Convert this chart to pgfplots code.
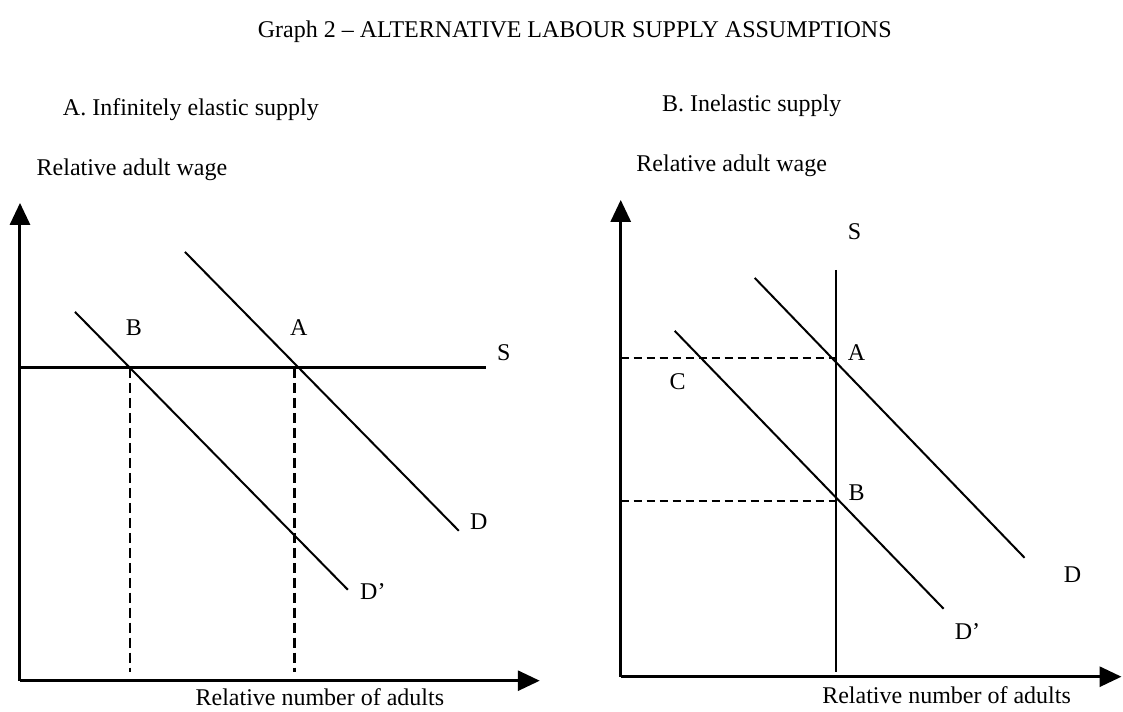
\documentclass[border=0pt]{standalone}
\usepackage{fontspec}
\setmainfont{Liberation Serif}
\usepackage{pgfplots}
\pgfplotsset{compat=1.18}
\usetikzlibrary{arrows.meta}

% one pixel of the reference = 0.5pt
\pgfplotsset{
  diagram/.style={
    scale only axis, axis lines=left, xtick=\empty, ytick=\empty,
    enlargelimits=false, clip=false, anchor=south west,
    axis line style={line width=1.5pt,-{Triangle[length=11pt,width=10pt]}},
  },
  curve/.style={black, line width=1pt, no markers},
  guide/.style={black, line width=1.1pt, no markers, dash pattern=on 4pt off 2.5pt},
}

\begin{document}
\begin{tikzpicture}[font=\fontsize{12}{14}\selectfont]
\path (0,0) rectangle (561.5pt,354.5pt);
\node at (287.5pt,338.5pt) {Graph 2 -- ALTERNATIVE LABOUR SUPPLY ASSUMPTIONS};

% A. infinitely elastic supply
\begin{axis}[diagram, at={(10pt,14pt)}, width=260pt, height=239pt,
  xmin=0, xmax=520, ymin=0, ymax=478]
\addplot[curve, line width=1.4pt] coordinates {(0,313) (466,313)};
\addplot[curve] coordinates {(165,429) (439,150)};
\addplot[curve] coordinates {(55,369) (328,91)};
\addplot[guide, line width=1.4pt, dash pattern=on 5pt off 2.5pt] coordinates {(110,313) (110,9)};
\addplot[guide, line width=1.4pt, dash pattern=on 5pt off 2.5pt] coordinates {(275,313) (275,9)};
\node at (axis cs:279,353) {A};
\node at (axis cs:114,353) {B};
\node at (axis cs:484,328) {S};
\node at (axis cs:459,159) {D};
\node at (axis cs:353,89) {D'};
\node at (axis cs:171,571) {A. Infinitely elastic supply};
\node at (axis cs:112,511) {Relative adult wage};
\node at (axis cs:300,-16) {Relative number of adults};
\end{axis}

% B. inelastic supply
\begin{axis}[diagram, at={(310.5pt,16pt)}, width=250.5pt, height=238.5pt,
  xmin=0, xmax=501, ymin=0, ymax=477]
\addplot[curve] coordinates {(215,407) (215,5)};
\addplot[curve] coordinates {(134,399) (404,119)};
\addplot[curve] coordinates {(54,346) (323,68)};
\addplot[guide] coordinates {(0,319) (215,319)};
\addplot[guide] coordinates {(0,176) (215,176)};
\node at (axis cs:234,445) {S};
\node at (axis cs:236,324) {A};
\node at (axis cs:57,295) {C};
\node at (axis cs:236,184) {B};
\node at (axis cs:452,102) {D};
\node at (axis cs:347,45) {D'};
\node at (axis cs:131,571) {B. Inelastic supply};
\node at (axis cs:111,511) {Relative adult wage};
\node at (axis cs:326,-18) {Relative number of adults};
\end{axis}
\end{tikzpicture}
\end{document}
